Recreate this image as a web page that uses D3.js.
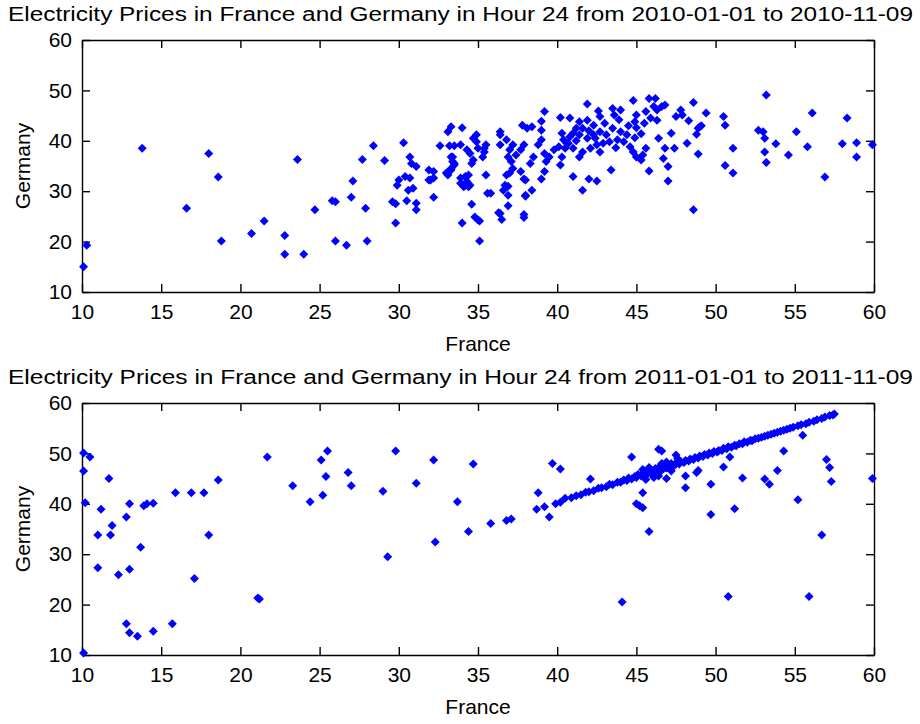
<!DOCTYPE html>
<html>
<head>
<meta charset="utf-8">
<script src="https://cdn.jsdelivr.net/npm/d3@7"></script>
<style>
body { margin: 0; background: #fff; }
text { font-family: "Liberation Sans", Arial, Helvetica, sans-serif; fill: #000; }
</style>
</head>
<body>
<div id="chart"></div>
<script>
// hour 24 prices, [France, Germany] pairs
var prices2010 = [
    [10.1,15.0],[10.3,19.3],[13.8,38.5],[16.6,26.6],[18.0,37.5],[18.6,32.8],[18.8,20.1],[20.7,21.6],
    [21.5,24.1],[22.8,21.2],[22.8,17.5],[23.6,36.3],[24.0,17.5],[24.7,26.3],[25.8,28.1],[26.0,27.9],
    [26.0,20.1],[26.7,19.3],[27.0,28.8],[27.1,32.0],[27.7,36.3],[27.9,26.6],[28.0,20.1],[28.4,39.0],
    [29.1,36.1],[29.6,27.9],[29.8,27.5],[29.8,23.7],[29.9,31.2],[30.0,32.2],[30.3,39.6],[30.4,32.9],
    [30.5,28.1],[30.6,30.2],[30.7,32.6],[30.7,36.8],[30.8,35.5],[30.9,30.6],[31.1,34.9],[31.1,27.6],
    [31.1,26.3],[31.9,32.2],[31.9,34.2],[32.2,28.8],[32.2,32.6],[32.2,33.9],[32.0,32.2],[32.6,39.0],
    [33.0,33.6],[33.1,41.8],[33.3,42.8],[33.2,39.0],[33.5,39.0],[33.4,36.8],[33.5,35.5],[33.3,34.5],
    [33.9,31.6],[33.9,32.6],[34.2,31.2],[34.4,30.9],[33.3,36.8],[33.4,35.9],[33.5,35.2],[33.3,34.2],
    [33.1,33.2],[33.9,39.2],[34.0,42.6],[34.3,38.2],[34.5,37.5],[34.7,40.5],[34.9,41.2],[34.9,39.8],
    [35.0,38.5],[34.7,36.2],[34.6,35.5],[35.3,36.8],[35.4,37.8],[35.5,39.2],[34.2,32.9],[34.3,31.9],
    [34.5,31.2],[34.1,30.9],[34.4,33.2],[35.5,33.2],[35.6,29.6],[34.6,27.4],[34.0,23.7],[34.8,24.9],
    [35.0,24.3],[35.1,24.1],[35.1,20.1],[35.8,29.6],[36.3,25.7],[36.5,24.4],[36.9,27.1],[36.6,30.2],
    [36.9,31.0],[36.9,29.2],[37.9,24.8],[38.0,29.0],[38.4,30.2],[37.9,32.4],[39.0,32.4],[39.2,33.9],
    [41.0,32.9],[41.6,30.2],[42.0,32.4],[42.5,32.0],[43.4,34.2],[45.8,34.0],[47.0,32.0],[48.6,26.3],
    [51.1,33.6],[56.9,32.8],[37.0,33.6],[37.7,33.9],
    [41.9,47.3],[44.8,48.0],[45.8,48.4],[46.2,48.4],[48.6,47.6],[39.2,45.8],[42.6,45.9],[42.7,44.8],
    [43.5,46.4],[44.0,46.1],[43.6,45.1],[45.0,45.1],[44.9,43.8],[45.6,45.8],[46.1,46.8],[46.3,46.1],
    [46.6,46.8],[46.8,47.1],[45.9,44.5],[46.3,44.1],[45.5,43.5],[47.8,46.1],[47.9,45.1],[47.5,44.8],
    [48.3,44.0],[49.4,45.5],[49.1,43.0],[48.9,42.5],[48.8,41.3],[48.2,39.5],[48.9,37.4],[47.2,41.5],
    [46.4,40.5],[46.8,38.5],[47.4,38.5],[46.7,36.5],[47.0,34.9],[45.3,36.2],[45.6,38.5],[49.0,42.8],
    [40.2,44.6],[40.8,44.5],[39.0,43.9],[39.0,42.1],[37.8,43.1],[38.1,42.5],[38.4,42.8],[36.4,41.8],
    [40.3,41.5],[41.4,43.8],[41.9,44.1],[42.3,43.1],[41.6,42.5],[41.2,42.5],[41.0,41.5],
    [41.4,41.2],[41.9,40.5],[42.3,41.2],[42.7,41.8],[43.1,41.2],[43.5,42.5],[44.0,41.8],[44.4,41.2],
    [44.2,39.8],[43.8,40.2],[43.3,39.8],[42.9,39.5],[42.5,39.2],[42.1,38.5],[41.6,37.8],[41.4,36.8],
    [41.0,38.5],[40.6,39.5],[40.4,40.2],[40.8,40.8],[42.7,37.8],[44.6,38.8],[44.8,37.8],[45.0,36.8],
    [45.4,37.2],[42.0,42.0],[43.0,43.5],[44.5,43.0],[43.9,44.2],[42.4,40.5],[41.2,40.0],[43.7,38.6],
    [44.9,40.6],[45.3,41.4],[45.0,42.6],
    [35.4,38.5],[36.4,41.2],[36.4,39.2],[36.8,40.2],[37.0,38.2],[37.2,39.2],[36.9,36.8],[37.1,35.9],
    [37.4,37.2],[37.7,38.2],[37.9,39.2],[37.2,34.5],[36.8,33.2],[36.7,31.2],[38.0,32.2],[38.3,35.5],
    [38.5,36.8],[38.8,39.2],[39.0,40.2],[39.2,37.5],[39.3,35.9],[39.5,36.8],[39.8,38.2],[40.1,38.8],
    [40.3,36.8],[40.2,35.2],[40.5,38.5],[40.7,39.5],[38.0,29.2],[36.4,25.6],[37.9,25.4],
    [53.2,49.1],[56.1,45.5],[58.3,44.5],[50.5,44.8],[50.6,43.1],[51.1,38.5],[50.6,35.1],[52.7,42.1],
    [53.0,41.8],[53.1,40.5],[53.1,37.8],[53.2,35.7],[53.8,39.4],[54.6,37.2],[55.1,41.8],[55.8,38.8],
    [58.0,39.4],[58.9,36.8],[58.9,39.6],[59.9,39.2]
];

var prices2011 = [
    [10.1,50.1],[10.5,49.3],[10.1,46.5],[10.2,40.2],[11.7,45.0],[11.2,38.9],[11.0,33.8],[11.8,33.8],
    [11.9,35.7],[12.8,37.4],[13.0,40.0],[13.9,39.6],[14.1,40.0],[14.5,40.1],[15.9,42.2],[16.9,42.2],
    [17.7,42.2],[18.6,44.7],[18.0,33.8],[21.7,49.3],[23.3,43.6],[24.4,40.4],[25.1,48.7],[25.5,50.5],
    [25.4,45.4],[25.2,41.7],[26.8,46.2],[27.0,43.6],[29.0,42.5],[29.8,50.5],[31.1,44.1],[32.2,48.7],
    [33.7,40.4],[32.3,32.4],[11.0,27.3],[12.3,25.9],[13.0,27.0],[13.7,31.4],[17.1,25.2],[21.1,21.3],
    [21.2,21.1],[12.8,16.2],[13.0,14.4],[13.5,13.7],[14.5,14.7],[15.7,16.2],[10.1,10.4],[29.3,29.5],
    [44.1,20.5],[50.8,21.6],[55.9,21.6],[34.4,34.5],[45.8,34.5],[56.7,33.8],
    [34.7,47.9],[35.8,36.1],[36.8,36.7],[37.1,37.0],[38.8,42.2],[38.7,38.9],[39.2,39.4],[39.5,37.4],
    [39.9,40.0],[40.2,40.3],[39.7,48.0],[40.2,46.9],[42.1,44.9],[44.7,49.3],[46.4,50.8],[46.6,50.5],
    [47.5,49.7],[45.4,42.2],[45.0,40.0],[45.2,39.6],[45.4,39.2],[48.1,45.5],[48.1,43.2],[48.8,46.2],
    [48.9,46.6],[49.7,43.9],[49.7,37.9],[50.5,47.3],[50.9,49.3],[51.2,39.0],[51.7,45.1],[53.1,44.9],
    [53.4,43.9],[53.9,46.6],[54.3,50.5],[55.2,40.8],[55.5,53.6],[57.0,48.8],[57.2,47.2],[57.3,44.4],
    [59.9,45.0],[46.4,46.0],[46.9,45.0],
    // the tight band along the diagonal
    [40.5,41.1],[40.9,41.2],[41.2,41.6],[41.5,41.8],[41.8,42.3],[42.0,42.4],[42.3,42.6],[42.6,43.1],
    [42.8,43.2],[43.1,43.4],[43.3,43.9],[43.5,43.8],[43.8,44.3],[44.0,44.3],[44.2,44.7],[44.4,44.6],
    [44.5,45.1],[44.7,44.9],[44.9,45.4],[45.0,45.2],[45.1,45.8],[45.3,45.5],[45.4,46.0],[45.5,45.6],
    [45.6,46.2],[45.7,45.9],[45.8,46.5],[45.9,46.1],[46.0,46.6],[46.1,46.3],[46.2,47.0],[46.3,46.4],
    [46.4,47.2],[46.5,46.7],[46.6,47.4],[46.7,46.9],[46.8,47.6],[46.9,47.1],[47.0,47.8],[47.1,47.3],
    [47.2,48.0],[47.4,47.6],[47.5,48.1],[47.7,47.9],[47.8,48.4],[48.0,48.2],[48.1,48.6],[48.3,48.5],
    [48.4,48.9],[48.6,48.8],[48.7,49.2],[48.9,49.1],[49.0,49.5],[49.2,49.4],[49.3,49.8],[49.5,49.7],
    [49.6,50.1],[49.8,50.0],[49.9,50.4],[50.1,50.3],[50.2,50.6],[50.4,50.6],[50.5,51.0],[50.7,50.9],
    [50.8,51.3],[51.0,51.2],[51.2,51.6],[51.3,51.5],[51.5,51.9],[51.7,51.9],[51.8,52.3],[52.0,52.2],
    [52.2,52.6],[52.3,52.5],[52.5,52.9],[52.7,53.0],[52.9,53.2],[53.1,53.4],[53.3,53.6],[53.5,53.8],
    [53.7,54.0],[53.9,54.2],[54.1,54.4],[54.3,54.6],[54.5,54.8],[54.7,55.0],[54.9,55.2],[55.2,55.5],
    [55.4,55.7],[55.7,55.9],[55.9,56.2],[56.2,56.4],[56.4,56.7],[56.7,56.9],[56.9,57.2],[57.2,57.5],
    [57.5,57.8],[57.4,57.6],[45.8,47.2],[46.1,45.2],[46.4,45.5],[45.6,44.8],[46.9,48.3],[47.2,46.5],
    [46.6,48.0],[45.4,46.8],[47.6,49.0]
];

var xTickValues = [10, 15, 20, 25, 30, 35, 40, 45, 50, 55, 60];
var yTickValues = [10, 20, 30, 40, 50, 60];
var titles = [
    "Electricity Prices in France and Germany in Hour 24 from 2010-01-01 to 2010-11-09",
    "Electricity Prices in France and Germany in Hour 24 from 2011-01-01 to 2011-11-09"
];

// svg size and panel placement
var svgWidth = 920;
var svgHeight = 724;
var plotLeft = 82;
var width = 792;
var height = 252;
var panelTops = [40, 403];

var svg = d3.select("#chart").append("svg")
    .attr("width", svgWidth)
    .attr("height", svgHeight);

var xScale = d3.scaleLinear().domain([10, 60]).range([0, width]);
var yScale = d3.scaleLinear().domain([10, 60]).range([height, 0]);

// matlab style filled diamond
var diamond = {
    draw: function(ctx, size) {
        var r = Math.sqrt(size) / 2;
        ctx.moveTo(0, -r);
        ctx.lineTo(r, 0);
        ctx.lineTo(0, r);
        ctx.lineTo(-r, 0);
        ctx.closePath();
    }
};
var marker = d3.symbol().type(diamond).size(81);

function drawPanel(top, data, title) {
    var g = svg.append("g")
        .attr("transform", `translate(${plotLeft}, ${top})`);

    var fmt = d3.format("d");
    var tickFont = "21px";

    var bottomAxis = g.append("g")
        .attr("transform", `translate(0, ${height})`)
        .call(d3.axisBottom(xScale).tickValues(xTickValues).tickFormat(fmt)
            .tickSizeInner(-8).tickSizeOuter(0).tickPadding(12));
    var leftAxis = g.append("g")
        .call(d3.axisLeft(yScale).tickValues(yTickValues).tickFormat(fmt)
            .tickSizeInner(-8).tickSizeOuter(0).tickPadding(10));
    var topAxis = g.append("g")
        .call(d3.axisTop(xScale).tickValues(xTickValues).tickFormat("")
            .tickSizeInner(-8).tickSizeOuter(0));
    var rightAxis = g.append("g")
        .attr("transform", `translate(${width}, 0)`)
        .call(d3.axisRight(yScale).tickValues(yTickValues).tickFormat("")
            .tickSizeInner(-8).tickSizeOuter(0));

    g.selectAll(".domain, .tick line").attr("stroke", "#000").attr("stroke-width", 1.4);
    g.selectAll(".tick text")
        .attr("fill", "#000")
        .style("font-family", "'Liberation Sans', Arial, sans-serif")
        .style("font-size", tickFont);

    g.selectAll(".pt")
        .data(data)
        .enter()
        .append("path")
        .attr("class", "pt")
        .attr("d", marker)
        .attr("fill", "#0000ff")
        .attr("transform", d => `translate(${xScale(d[0])}, ${yScale(d[1])})`);

    svg.append("text")
        .attr("x", 460.5)
        .attr("y", top - 19)
        .attr("text-anchor", "middle")
        .attr("textLength", 905)
        .attr("lengthAdjust", "spacingAndGlyphs")
        .style("font-size", "20px")
        .text(title);

    g.append("text")
        .attr("x", width / 2)
        .attr("y", height + 59)
        .attr("text-anchor", "middle")
        .style("font-size", "21px")
        .text("France");

    g.append("text")
        .attr("transform", `translate(${30 - plotLeft}, ${height / 2}) rotate(-90)`)
        .attr("text-anchor", "middle")
        .style("font-size", "21px")
        .text("Germany");
}

drawPanel(panelTops[0], prices2010, titles[0]);
drawPanel(panelTops[1], prices2011, titles[1]);
</script>
</body>
</html>
